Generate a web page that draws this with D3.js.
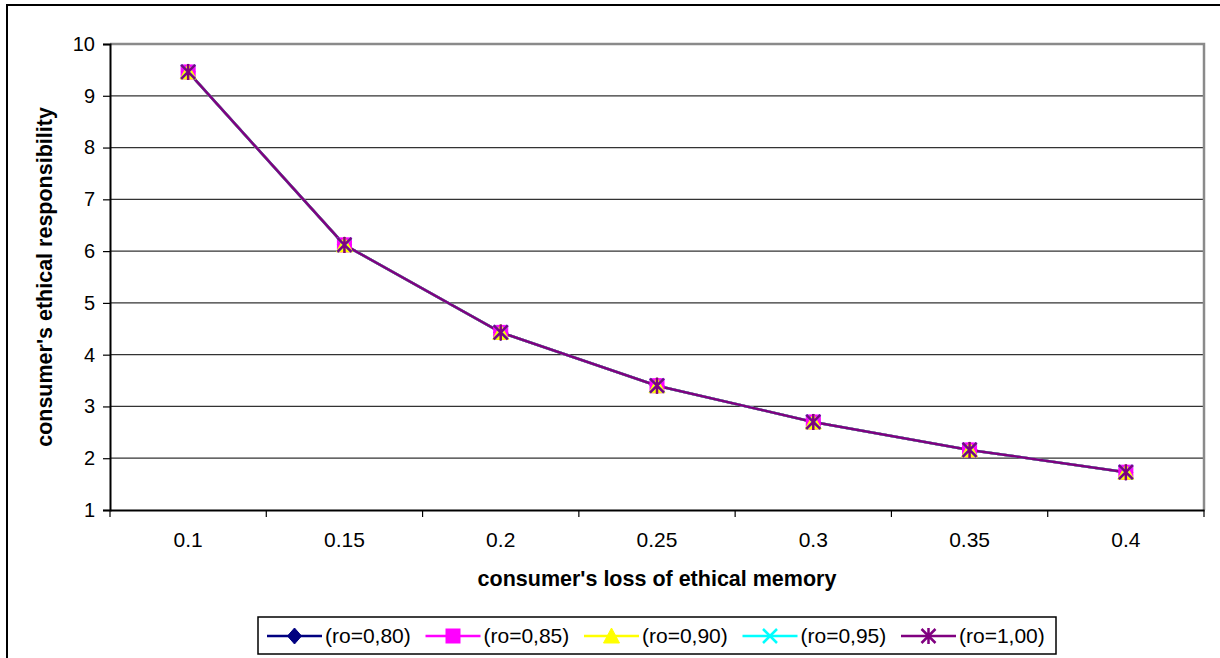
<!DOCTYPE html>
<html lang="en">
<head>
    <meta charset="UTF-8">
    <script src="https://cdn.jsdelivr.net/npm/d3@7"></script>
    <title>consumer's ethical responsibility</title>
    <style>
        body { margin: 0; background: white; }
        text { font-family: Arial, "Liberation Sans", sans-serif; fill: #000; }
    </style>
</head>
<body>
    <div class="fig"></div>
    <script>
        // categories on x axis
        const memoryLoss = ["0.1", "0.15", "0.2", "0.25", "0.3", "0.35", "0.4"];
        const yTicks = [1, 2, 3, 4, 5, 6, 7, 8, 9, 10];

        // one array per ro value (they nearly overlap)
        const ro080 = [9.46, 6.12, 4.43, 3.40, 2.70, 2.16, 1.73];
        const ro085 = [9.46, 6.12, 4.43, 3.40, 2.70, 2.16, 1.73];
        const ro090 = [9.46, 6.12, 4.43, 3.40, 2.70, 2.16, 1.73];
        const ro095 = [9.46, 6.12, 4.43, 3.40, 2.70, 2.16, 1.73];
        const ro100 = [9.46, 6.12, 4.43, 3.40, 2.70, 2.16, 1.73];

        const seriesNames = ["(ro=0,80)", "(ro=0,85)", "(ro=0,90)", "(ro=0,95)", "(ro=1,00)"];
        const seriesValues = [ro080, ro085, ro090, ro095, ro100];
        const seriesColors = ["#000080", "#ff00ff", "#ffff00", "#00ffff", "#800080"];
        const seriesMarkers = ["diamond", "square", "triangle", "cross", "star"];

        const width = 1220, height = 658;
        const plot = { left: 110, right: 1204, top: 44, bottom: 510 };

        const svg = d3.select(".fig").append("svg")
            .attr("width", width)
            .attr("height", height);

        // outer chart border (runs off the canvas right/bottom)
        svg.append("rect")
            .attr("x", 7).attr("y", 5)
            .attr("width", 1230).attr("height", 670)
            .attr("fill", "white")
            .attr("stroke", "#000").attr("stroke-width", 2);

        const x = d3.scaleBand()
            .domain(memoryLoss)
            .range([plot.left, plot.right])
            .padding(0);

        const y = d3.scaleLinear()
            .domain([1, 10])
            .range([plot.bottom, plot.top]);

        // gridlines
        svg.append("g")
            .selectAll("line")
            .data(yTicks.filter(d => d > 1 && d < 10))
            .join("line")
            .attr("x1", plot.left).attr("x2", plot.right)
            .attr("y1", d => y(d)).attr("y2", d => y(d))
            .attr("stroke", "#333").attr("stroke-width", 1.2);

        // plot frame top / right (grey)
        svg.append("path")
            .attr("d", `M${plot.left},${y(10)}H${plot.right}V${plot.bottom}`)
            .attr("fill", "none")
            .attr("stroke", "#8a8a8a").attr("stroke-width", 2.5);

        // y axis
        const yAxis = svg.append("g")
            .attr("transform", `translate(${plot.left},0)`)
            .call(d3.axisLeft(y).tickValues(yTicks).tickSize(7).tickPadding(8));
        yAxis.select(".domain").attr("stroke", "#000").attr("stroke-width", 2);
        yAxis.selectAll(".tick line").attr("stroke", "#000").attr("stroke-width", 1.2);
        yAxis.selectAll(".tick text")
            .style("font-size", "20px")
            .style("font-family", "Arial, 'Liberation Sans', sans-serif");

        // x axis: ticks at category boundaries
        const xAxis = svg.append("g")
            .attr("transform", `translate(0,${plot.bottom})`)
            .call(d3.axisBottom(x).tickSize(0).tickPadding(22));
        xAxis.select(".domain").attr("stroke", "#000").attr("stroke-width", 2);
        xAxis.selectAll(".tick text")
            .style("font-size", "21px")
            .style("font-family", "Arial, 'Liberation Sans', sans-serif");

        const bounds = memoryLoss.map(d => x(d)).concat([plot.right]);
        svg.append("g")
            .selectAll("line")
            .data(bounds)
            .join("line")
            .attr("x1", d => d).attr("x2", d => d)
            .attr("y1", plot.bottom).attr("y2", plot.bottom + 7)
            .attr("stroke", "#000").attr("stroke-width", 1.2);

        // axis titles
        svg.append("text")
            .attr("x", (plot.left + plot.right) / 2)
            .attr("y", 586)
            .attr("text-anchor", "middle")
            .style("font-size", "21.5px")
            .style("font-weight", "bold")
            .text("consumer's loss of ethical memory");

        svg.append("text")
            .attr("transform", `translate(52,${(plot.top + plot.bottom) / 2}) rotate(-90)`)
            .attr("text-anchor", "middle")
            .style("font-size", "21.5px")
            .style("font-weight", "bold")
            .text("consumer's ethical responsibility");

        // marker drawing
        const drawMarker = (g, type, color, cx, cy) => {
            const s = 7;
            if (type === "diamond") {
                g.append("path")
                    .attr("d", `M${cx},${cy - s - 1}L${cx + s},${cy}L${cx},${cy + s + 1}L${cx - s},${cy}Z`)
                    .attr("fill", color).attr("stroke", color);
            } else if (type === "square") {
                g.append("rect")
                    .attr("x", cx - s).attr("y", cy - s)
                    .attr("width", 2 * s).attr("height", 2 * s)
                    .attr("fill", color).attr("stroke", color);
            } else if (type === "triangle") {
                g.append("path")
                    .attr("d", `M${cx},${cy - s - 1}L${cx + s + 1},${cy + s}L${cx - s - 1},${cy + s}Z`)
                    .attr("fill", color).attr("stroke", color);
            } else if (type === "cross") {
                g.append("path")
                    .attr("d", `M${cx - s},${cy - s}L${cx + s},${cy + s}M${cx - s},${cy + s}L${cx + s},${cy - s}`)
                    .attr("stroke", color).attr("stroke-width", 2.5);
            } else {
                g.append("path")
                    .attr("d", `M${cx - s},${cy - s}L${cx + s},${cy + s}M${cx - s},${cy + s}L${cx + s},${cy - s}M${cx},${cy - s - 1}V${cy + s + 1}`)
                    .attr("stroke", color).attr("stroke-width", 2.5);
            }
        };

        const line = d3.line()
            .x((d, i) => x(memoryLoss[i]) + x.bandwidth() / 2)
            .y(d => y(d));

        seriesValues.forEach((vals, k) => {
            svg.append("path")
                .datum(vals)
                .attr("d", line)
                .attr("fill", "none")
                .attr("stroke", seriesColors[k])
                .attr("stroke-width", 2.5);
        });
        seriesValues.forEach((vals, k) => {
            const g = svg.append("g");
            vals.forEach((v, i) => {
                drawMarker(g, seriesMarkers[k], seriesColors[k], x(memoryLoss[i]) + x.bandwidth() / 2, y(v));
            });
        });

        // legend
        const legend = svg.append("g");
        legend.append("rect")
            .attr("x", 258).attr("y", 617)
            .attr("width", 798).attr("height", 37)
            .attr("fill", "white")
            .attr("stroke", "#000").attr("stroke-width", 1.5);

        seriesNames.forEach((name, k) => {
            const lx = 267 + k * 158.5, ly = 636;
            legend.append("line")
                .attr("x1", lx).attr("x2", lx + 55)
                .attr("y1", ly).attr("y2", ly)
                .attr("stroke", seriesColors[k]).attr("stroke-width", 2.5);
            drawMarker(legend, seriesMarkers[k], seriesColors[k], lx + 27.5, ly);
            legend.append("text")
                .attr("x", lx + 58).attr("y", ly)
                .attr("dy", "0.35em")
                .style("font-size", "21px")
                .text(name);
        });
    </script>
</body>
</html>
